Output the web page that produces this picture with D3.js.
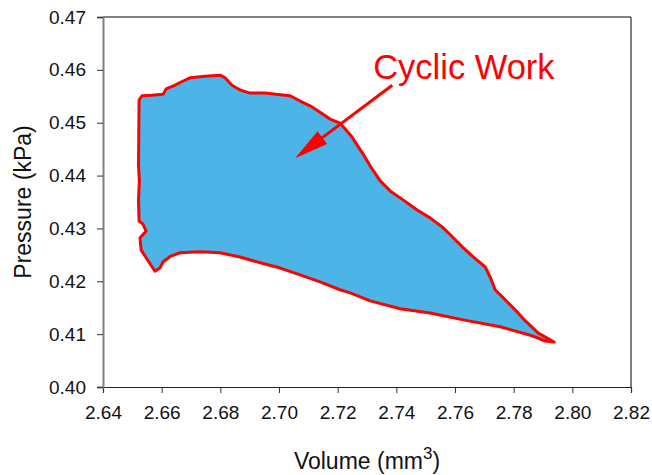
<!DOCTYPE html>
<html>
<head>
<meta charset="utf-8">
<script src="https://cdn.jsdelivr.net/npm/d3@7"></script>
<style>
  body { margin: 0; background: #fff; }
  svg text { font-family: "Liberation Sans", Arial, sans-serif; }
</style>
</head>
<body>
<div id="chart"></div>
<script>
// PV loop outline (clockwise from top-left)
const volume = [
  2.6523, 2.6533, 2.6567, 2.6605, 2.6615, 2.6646, 2.6666, 2.6697, 2.6748, 2.6799,
  2.6816, 2.6840, 2.6867, 2.6901, 2.6953, 2.7004, 2.7038, 2.7072, 2.7106, 2.7140,
  2.7174, 2.7208, 2.7229, 2.7249, 2.7266, 2.7284, 2.7311, 2.7345, 2.7379, 2.7423,
  2.7471, 2.7515, 2.7556, 2.7584, 2.7625, 2.7662, 2.7703, 2.7720, 2.7737, 2.7771,
  2.7805, 2.7840, 2.7884, 2.7938, 2.7908, 2.7857, 2.7754, 2.7628, 2.7515, 2.7413,
  2.7311, 2.7243, 2.7208, 2.7140, 2.7072, 2.7004, 2.6936, 2.6867, 2.6799, 2.6731,
  2.6663, 2.6629, 2.6605, 2.6594, 2.6577, 2.6557, 2.6530, 2.6526, 2.6547, 2.6536,
  2.6523, 2.6521, 2.6524, 2.6521, 2.6522
];
const pressure = [
  0.4543, 0.4551, 0.4552, 0.4554, 0.4564, 0.4571, 0.4577, 0.4585, 0.4588, 0.4590,
  0.4585, 0.4571, 0.4562, 0.4556, 0.4556, 0.4553, 0.4551, 0.4541, 0.4532, 0.4520,
  0.4507, 0.4499, 0.4486, 0.4473, 0.4458, 0.4443, 0.4418, 0.4390, 0.4371, 0.4354,
  0.4335, 0.4320, 0.4303, 0.4288, 0.4265, 0.4246, 0.4227, 0.4208, 0.4184, 0.4165,
  0.4146, 0.4125, 0.4102, 0.4085, 0.4087, 0.4098, 0.4114, 0.4127, 0.4140, 0.4148,
  0.4163, 0.4178, 0.4184, 0.4199, 0.4212, 0.4225, 0.4235, 0.4246, 0.4254, 0.4256,
  0.4254, 0.4247, 0.4237, 0.4225, 0.4219, 0.4236, 0.4259, 0.4282, 0.4295, 0.4308,
  0.4314, 0.4354, 0.4390, 0.4420, 0.4482
];

const xTicks = [2.64, 2.66, 2.68, 2.70, 2.72, 2.74, 2.76, 2.78, 2.80, 2.82];
const yTicks = [0.40, 0.41, 0.42, 0.43, 0.44, 0.45, 0.46, 0.47];

const W = 652, H = 475;
const margin = { top: 17, right: 21, bottom: 88, left: 103 };
const width = W - margin.left - margin.right,
      height = H - margin.top - margin.bottom;

const svg = d3.select("#chart").append("svg")
  .attr("width", W).attr("height", H);
const g = svg.append("g")
  .attr("transform", `translate(${margin.left},${margin.top})`);

const x = d3.scaleLinear().domain([2.64, 2.82]).range([0, width]);
const y = d3.scaleLinear().domain([0.40, 0.47]).range([height, 0]);

// loop
const pts = volume.map((v, i) => [v, pressure[i]]);
const line = d3.line().x(d => x(d[0])).y(d => y(d[1])).curve(d3.curveLinearClosed);
g.append("path")
  .attr("d", line(pts))
  .attr("fill", "#4cb4e6")
  .attr("stroke", "#ff0000")
  .attr("stroke-width", 3)
  .attr("stroke-linejoin", "round");

// frame
g.append("line").attr("x1", 0).attr("x2", width).attr("y1", 0).attr("y2", 0)
  .attr("stroke", "#000").attr("stroke-width", 1);
g.append("line").attr("x1", width).attr("x2", width).attr("y1", 0).attr("y2", height)
  .attr("stroke", "#000").attr("stroke-width", 1);

// axes
const xAxis = g.append("g")
  .attr("transform", `translate(0,${height})`)
  .call(d3.axisBottom(x).tickValues(xTicks).tickFormat(d3.format(".2f")).tickSize(6).tickPadding(13));
const yAxis = g.append("g")
  .call(d3.axisLeft(y).tickValues(yTicks).tickFormat(d3.format(".2f")).tickSize(6).tickPadding(11));

xAxis.select(".domain").attr("stroke", "#222").attr("stroke-width", 1.2);
yAxis.select(".domain").attr("stroke", "#808080").attr("stroke-width", 2);
[xAxis, yAxis].forEach(a => {
  a.selectAll(".tick line").attr("stroke", "#333");
  a.selectAll("text")
    .style("font-family", "'Liberation Sans', Arial, sans-serif")
    .style("font-size", "19px")
    .attr("fill", "#111");
});

// axis titles
const xt = svg.append("text")
  .attr("x", margin.left + width / 2)
  .attr("y", 469)
  .attr("text-anchor", "middle")
  .style("font-size", "23px")
  .attr("fill", "#111");
xt.append("tspan").text("Volume (mm");
xt.append("tspan").attr("dy", -10).style("font-size", "17px").text("3");
xt.append("tspan").attr("dy", 10).text(")");

svg.append("text")
  .attr("transform", `translate(31,${margin.top + height / 2}) rotate(-90)`)
  .attr("text-anchor", "middle")
  .style("font-size", "23px")
  .attr("fill", "#111")
  .text("Pressure (kPa)");

// annotation
const arrowFrom = [2.7386, 0.4571], arrowTo = [2.7055, 0.4433];
const x0 = x(arrowFrom[0]), y0 = y(arrowFrom[1]);
const x1 = x(arrowTo[0]), y1 = y(arrowTo[1]);
const len = Math.hypot(x1 - x0, y1 - y0);
const ux = (x1 - x0) / len, uy = (y1 - y0) / len;
const headLen = 34, headHalf = 8;
const bx = x1 - ux * headLen, by = y1 - uy * headLen;
g.append("line")
  .attr("x1", x0).attr("y1", y0).attr("x2", bx + ux * 2).attr("y2", by + uy * 2)
  .attr("stroke", "#ff0000").attr("stroke-width", 3);
g.append("path")
  .attr("d", `M${x1},${y1}L${bx - uy * headHalf},${by + ux * headHalf}L${bx + uy * headHalf},${by - ux * headHalf}Z`)
  .attr("fill", "#ff0000");

g.append("text")
  .attr("x", x(2.7321))
  .attr("y", y(0.4583))
  .style("font-size", "34.5px")
  .attr("fill", "#ff0000")
  .text("Cyclic Work");
</script>
</body>
</html>
